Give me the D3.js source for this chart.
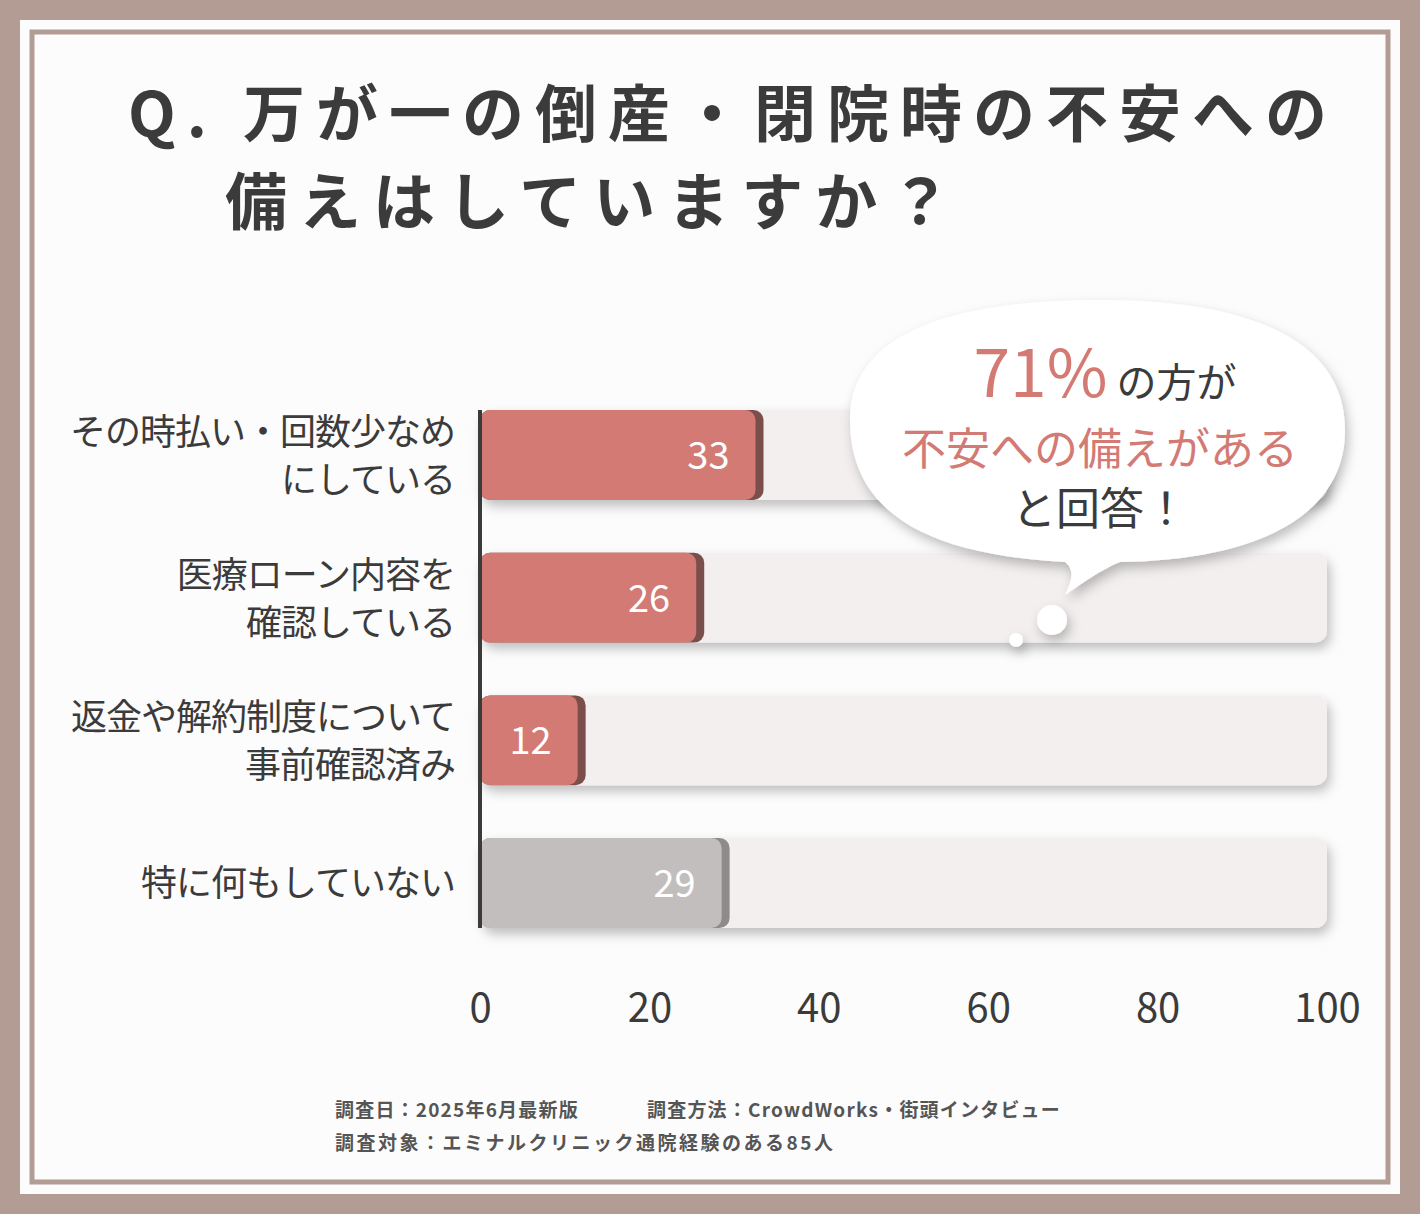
<!DOCTYPE html>
<html><head><meta charset="utf-8">
<script src="https://cdn.jsdelivr.net/npm/d3@7"></script>
<style>body{margin:0;background:#fff}svg{display:block}</style>
</head><body><svg id="c" width="1420" height="1214"></svg>
<script>
const categories = [["その時払い・回数少なめ","にしている"],["医療ローン内容を","確認している"],["返金や解約制度について","事前確認済み"],["特に何もしていない"]];
const values = [33, 26, 12, 29];
const barColors = ["#d27a73","#d27a73","#d27a73","#c2bebd"];
const ticks = [0,20,40,60,80,100];
const F = "'Noto Sans CJK JP','Noto Sans',sans-serif";
const svg = d3.select("#c");
const defs = svg.append("defs");
const f = defs.append("filter").attr("id","sh").attr("x","-20%").attr("y","-20%").attr("width","140%").attr("height","150%");
f.append("feDropShadow").attr("dx",3).attr("dy",6).attr("stdDeviation",6).attr("flood-color","#000").attr("flood-opacity",0.25);
svg.append("rect").attr("width",1420).attr("height",1214).attr("fill","#b39c94");
svg.append("rect").attr("x",20).attr("y",20).attr("width",1380).attr("height",1174).attr("fill","#fdfcfc");
svg.append("rect").attr("x",32).attr("y",32).attr("width",1356).attr("height",1150).attr("fill","none").attr("stroke","#b39c94").attr("stroke-width",5);
const t = svg.append("g").attr("font-family",F).attr("font-weight",700).attr("fill","#3b3b3b").attr("font-size",62);
t.append("text").attr("x",128).attr("y",137).attr("letter-spacing",11).text("Q. 万が一の倒産・閉院時の不安への");
t.append("text").attr("x",225).attr("y",225).attr("letter-spacing",12).text("備えはしていますか？");
const x = d3.scaleLinear().domain([0,100]).range([480,1327]);
const y = d3.scaleBand().domain(d3.range(4)).range([410,928]).paddingInner(0.37).paddingOuter(0);
const g = svg.append("g");
values.forEach((v,i)=>{
  g.append("rect").attr("x",x(0)).attr("y",y(i)).attr("width",x(100)-x(0)).attr("height",y.bandwidth()).attr("rx",12).attr("fill","#f2efee").attr("filter","url(#sh)");
  g.append("rect").attr("x",x(0)).attr("y",y(i)).attr("width",x(v)-x(0)+4).attr("height",y.bandwidth()).attr("rx",10).attr("fill",i<3?"#7a4f4b":"#8f8b8a");
  g.append("rect").attr("x",x(0)).attr("y",y(i)).attr("width",x(v)-x(0)-4).attr("height",y.bandwidth()).attr("rx",10).attr("fill",barColors[i]);
  g.append("text").attr("x",x(v)-30).attr("y",y(i)+y.bandwidth()/2+14).attr("text-anchor","end").attr("font-family",F).attr("font-size",38).attr("fill","#fff").text(v);
  const lines = categories[i];
  const cy = y(i)+y.bandwidth()/2;
  lines.forEach((l,j)=>{
    g.append("text").attr("x",455).attr("y",cy + (lines.length==1?13:(j==0?-10:38))).attr("text-anchor","end").attr("font-family",F).attr("font-size",36).attr("letter-spacing",-1).attr("fill","#3b3b3b").text(l);
  });
});
g.append("line").attr("x1",x(0)).attr("x2",x(0)).attr("y1",410).attr("y2",928).attr("stroke","#3b3b3b").attr("stroke-width",4);
const ax = svg.append("g").attr("transform","translate(0,985)").call(d3.axisBottom(x).tickValues(ticks).tickSize(0));
ax.select(".domain").remove();
ax.selectAll("text").attr("font-family",F).attr("font-size",40).attr("fill","#3b3b3b").attr("dy","0.85em");
const b = svg.append("g").attr("filter","url(#sh)");
b.append("path").attr("d","M850,420 C850,330 960,300 1100,300 C1250,300 1345,340 1345,430 C1345,520 1250,560 1120,562 C1100,570 1080,585 1065,595 C1072,580 1075,570 1065,562 C940,555 850,520 850,420 Z").attr("fill","#fff");
b.append("circle").attr("cx",1052).attr("cy",620).attr("r",15).attr("fill","#fff");
b.append("circle").attr("cx",1016).attr("cy",640).attr("r",7).attr("fill","#fff");
const bt = svg.append("g").attr("font-family",F).attr("text-anchor","middle");
const t1 = bt.append("text").attr("x",1105).attr("y",397);
t1.append("tspan").attr("font-size",66).attr("fill","#d27a73").text("71%");
t1.append("tspan").attr("font-size",40).attr("fill","#3b3b3b").text(" の方が");
bt.append("text").attr("x",1100).attr("y",465).attr("font-size",44).attr("fill","#d27a73").text("不安への備えがある");
bt.append("text").attr("x",1100).attr("y",525).attr("font-size",44).attr("fill","#3b3b3b").text("と回答！");
const ft = svg.append("g").attr("font-family",F).attr("font-weight",700).attr("font-size",19).attr("fill","#555").attr("letter-spacing",1.2);
ft.append("text").attr("x",335).attr("y",1117).text("調査日：2025年6月最新版");
ft.append("text").attr("x",647).attr("y",1117).text("調査方法：CrowdWorks・街頭インタビュー");
ft.append("text").attr("x",335).attr("y",1150).attr("letter-spacing",2.5).text("調査対象：エミナルクリニック通院経験のある85人");
</script></body></html>
